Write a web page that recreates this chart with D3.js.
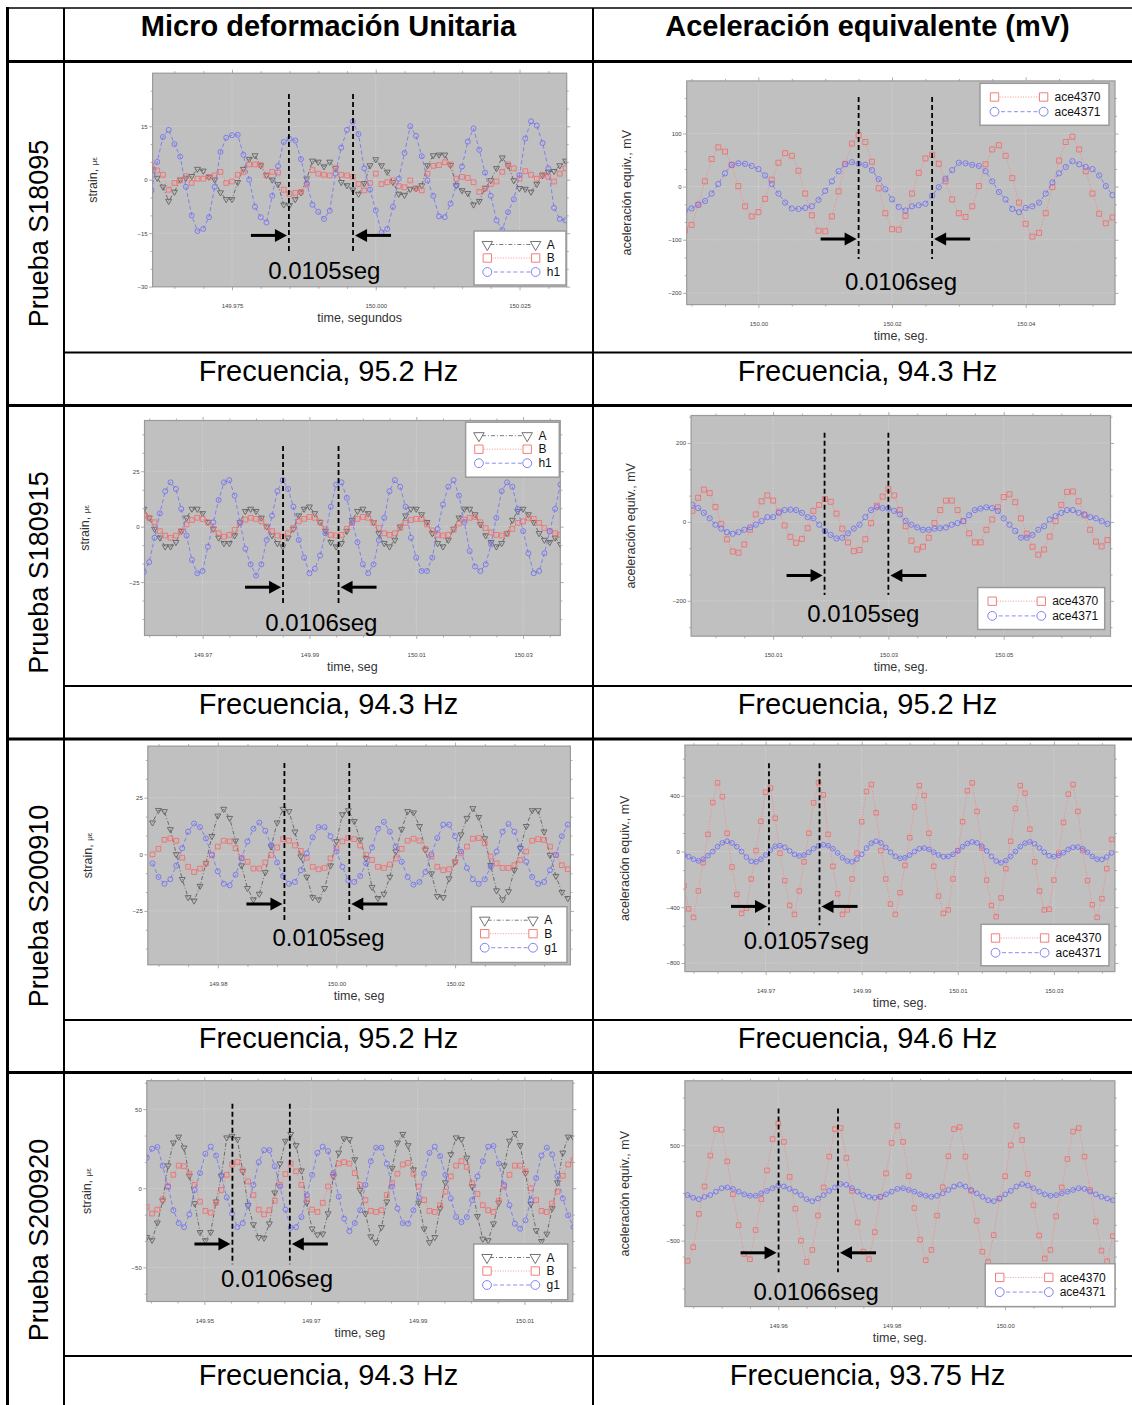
<!DOCTYPE html>
<html>
<head>
<meta charset="utf-8">
<script src="https://cdn.jsdelivr.net/npm/d3@7"></script>
<style>
  body { margin: 0; background: #fff; }
  svg { display: block; }
  text { font-family: "Liberation Sans", Arial, sans-serif; }
</style>
</head>
<body>
<svg id="fig" width="1132" height="1405"></svg>
<script>
// ---- Data (1 sample every ms) ----
const dt = 0.001;

// Prueba S18095 - strain
const s1T0 = 149.961;
const s1A = [3,.5,-2,-6,-3.4,0,.5,1,3,2.5, .8,0,-3.6,-5.5,-5.5,-.7,3,5.8,6.8,4, 1.3,0,-1.3,-7,-7.2,-5.5,-3.6,.3,5.3,5, 3.7,5,3.2,-.7,-1.6,-2.8,-4,-1,4,5.7, 4,2.2,-.7,-4,-4.3,-2.6,-2.4,-1.6,4,6.8, 7,7,4.1,-1.6,-3,-3.8,-7,-6,-2.4,-.2, 3.2,6.2,4,-.2,-2.4,-2.6,-3.4,-1.2,1.2,2.2, 2.4,4,5.3];
const s1B = [4,2.6,1.4,-2.8,-.9,-.2,1,-.9,.3,.3, .8,1.2,2.2,-.9,-.5,1.4,2.2,4.3,4.3,4.1, 1.2,2.2,2,-2.8,-4,-3.7,-3.4,-1.4,2.7,1.7, 1.4,1.2,3.2,1.4,1.2,.8,-1.2,-3,-.9,1.7, -1.2,-.7,-.2,-1.8,-2.1,-.2,-2.4,-3,1.7,3.9, 4.1,4.9,4.3,.3,.8,.5,-.7,-3.4,-2.4,-1.2, -.5,2.2,4.3,3.2,.3,2.4,1.4,.3,1.4,.8, -.5,1.7,3.2];
const s1H1 = [-3,5,12,14,10,6.5,-2,-10,-14.4,-13.8, -10.5,-2,7.8,11.8,12.5,12.6,7,0,-7.6,-10.5, -12,-4.5,3.8,10.6,11.5,11,5.8,-1,-7,-9, -11,-8.7,1.7,9,14,16.3,12.8,3.2,-2.8,-8.6, -14.8,-13.8,-7.6,.3,7.5,15,12.3,6.6,-.2,-4.5, -10.3,-10.5,-6.7,-1.6,3.7,10.7,14.4,8.4,2,-4.5, -11.4,-14.1,-9.1,-5.5,1.3,11.6,16.4,15.2,10.3,3.2, -7.9,-11,-11.4];
const s1XTicks = [149.975, 150.000, 150.025];
const s1YTicks = [-30, -15, 0, 15];
const s1Marks = [149.9849, 149.99605];

// Prueba S18095 - aceleracion
const a1T0 = 149.989;
const a1Ace4370 = [-82,-72,-34,10,52,74,66,41,1,-37,-56, -48,-23,13,45,63,58,30,-13,-54,-83, -84,-56,-9,43,81,97,84,47,-3,-50, -80,-81,-55,-13,26,53,60,43,10,-24, -50,-57,-37,1,42,70,78,58,16,-30, -70,-94,-87,-50,-1,49,84,94,70,29, -13,-51,-69,-58];
const a1Ace4371 = [-45,-41,-34,-27,-13,5,25,41,44,43,39, 33,21,5,-13,-30,-41,-42,-40,-37,-25, -8,10,29,42,46,43,41,31,14,-5, -24,-38,-45,-37,-35,-32,-17,-1,15,31, 45,44,41,39,29,10,-10,-24,-42,-48, -40,-37,-30,-13,8,25,37,48,42,37, 33,21,1,-16];
const a1XTicks = [150.00, 150.02, 150.04];
const a1YTicks = [-200, -100, 0, 100];
const a1Marks = [150.015, 150.026];

// Prueba S180915 - strain
const s2T0 = 149.959;
const s2A = [8,4,-1,-5,-9,-9,-7,-2,4,8, 8,6,2,-1,-5,-7.5,-7.5,-4,2,7, 8,7,4,0,-4,-7.5,-9,-5,-1,5, 8,9,6,2,-2,-7,-9,-7.5,-2,3, 7,8,6,2,-3,-7.5,-9,-6,0,5, 8,8,5.5,2,-3,-7.5,-9,-6,-1,4, 8,8,5.5,1,-4,-7,-9,-7.5,-3,3, 7,8,5.5,2,-3,-6,-7,-5,-8];
const s2B = [5,4,2,-2,-4,-5,-4,-2,1,3, 4,3.5,2,-1,-3,-4.5,-3.7,-1.4,1.7,3.2, 4,3.5,2.4,0,-2,-4,-4.5,-3,-.6,2.4, 3.5,4.4,4,2,-1.2,-3.7,-4,-3.7,-1,1.7, 3.5,4.4,4,1.7,-.6,-3,-3.7,-3,-.6,1.7, 3,3.5,3.5,1,-1.7,-3.7,-4,-3.7,-1.4,1.4, 3.2,4,4.4,2,-.6,-2.6,-3.7,-4,-3.2,-1, 1.7,2.4,4,3.5,1.7,-.6,-2,-3,-3.7];
const s2H1 = [-20.4,-16,-5,6,16,20,17,8,-4,-15, -21,-20,-9,2,12,20,21,14,2,-10, -17,-22,-17,-6,5,16,21,17,9,-6, -14,-21,-19,-13,-3,9,19,20,13,2, -7,-17,-21,-17,-6,4,16,21,18,9, -5,-14,-20,-20,-14,-1,10,18,21,14, 2,-11,-18,-20,-17,-8,4,16,20,18, 8,-2,-12,-21,-20,-12,-2,8,19];
const s2XTicks = [149.97, 149.99, 150.01, 150.03];
const s2YTicks = [-25, 0, 25];
const s2Marks = [149.98506, 149.99545];

// Prueba S180915 - aceleracion
const a2T0 = 149.996;
const a2Ace4370 = [28,61,82,73,38,-5,-44,-75,-78,-57, -20,19,52,67,54,26,-9,-38,-53,-43, -16,28,43,58,51,21,-17,-52,-74,-71, -44,-3,41,64,83,67,30,-11,-48,-70, -63,-40,-3,30,54,54,30,2,-29,-52, -52,-20,6,37,63,70,50,9,-30,-63, -83,-70,-37,2,43,76,77,52,17,-20, -50,-62,-46];
const a2Ace4371 = [43,35,23,9,-7,-17,-26,-30,-26,-20, -14,-7,2,12,12,23,30,31,30,23, 12,9,-7,-23,-33,-42,-40,-29,-17,-7, 12,30,37,35,34,28,19,3,-7,-14, -20,-20,-17,-16,-14,-7,-3,2,17,30, 34,37,35,28,9,-7,-23,-40,-40,-33, -20,-11,6,15,23,30,30,23,19,12, 9,2,-5];
const a2XTicks = [150.01, 150.03, 150.05];
const a2YTicks = [-200, 0, 200];
const a2Marks = [150.01893, 150.03];

// Prueba S200910 - strain
const s3T0 = 149.969;
const s3A = [14,19.5,19,11,0,-11,-19,-20.5,-14,-4, 8,17,20,16,6,-5,-15,-20,-17.5,-8, 3.4,14,20,19,10,-1,-10,-19,-20,-15, -5,5.7,17.6,19.4,14.6,6.4,-1.8,-14.5,-19.4,-17.5, -10,1.2,11,19,18.4,12.4,2,-8.5,-18.5,-19, -10.7,-3.3,8.7,16,20.3,16.4,7,-4.8,-16,-20, -16.4,-7,2.7,12.4,19.4,19.4,10,-.3,-9.6,-16.7, -19.4];
const s3B = [0,2.4,6.4,7,6,-1.5,-5.5,-7.8,-6.3,-4, -.3,3.4,6,5.7,2.7,-1.5,-3.3,-6.3,-6.3,-3.6, -.3,3,6.7,6,3.9,1.5,-1.5,-5.5,-6.6,-6, -1.8,2.7,5.7,7.2,6.7,3.9,-.3,-2.5,-5.5,-6, -4.5,-1.8,2.4,6,6.9,6,2.4,-1,-5.5,-7, -6.6,-3.3,.4,3.4,6.9,7.2,4.9,-1,-4,-6, -6,-4.8,-2.5,1.2,6,6.7,6.4,3.4,-.3,-4.8, -6.6];
const s3G1 = [-4,-10,-13,-11,-5,2.7,10,13.6,12,7, -.3,-7.5,-13,-13.7,-9,-1.8,5.7,11.3,14,10.4, 4.2,-3.6,-9.6,-13,-12.2,-7,.4,7.5,12,12, 8,1.2,-5.5,-11.5,-12.2,-9.6,-4,3,11.3,14.3, 10,3.4,-3.3,-10,-13.4,-12.2,-7.8,0,7.2,13.1, 13.1,8,1.2,-6,-11,-13,-11,-5.5,1.2,10, 13.4,10,3,-3.3,-10,-13,-12.2,-7,-.3,8, 13.1];
const s3XTicks = [149.98, 150.00, 150.02];
const s3YTicks = [-25, 0, 25];
const s3Marks = [149.99123, 150.00217];

// Prueba S200910 - aceleracion
const a3T0 = 149.953;
const a3Ace4370 = [-246, -412,-473,-283,-80,123,352,493,394,131,-111, -308,-444,-407,-197,7,217,426,456,239,-12, -209,-387,-451,-283,-74,131,350,493,407,123, -106,-303,-451,-419,-197,-12,214,431,481,278, 7,-197,-377,-451,-296,-99,99,320,473,402, 131,-106,-320,-444,-419,-197,7,214,436,493, 288,25,-205,-387,-468,-333,-123,74,308,473, 419,160,-74,-283,-419,-414,-205,-12,209,412, 481,288,7,-209,-382,-473,-338,-123,86];
const a3Ace4371 = [-25,-37,-55,-67,-55,-30,0,35,62,74, 62,35,0,-40,-70,-74,-55,-25,10,38, 42,30,5,-20,-32,-25,-5,20,40,49, 42,20,-10,-45,-68,-74,-55,-20,25,60, 74,62,30,-5,-35,-49,-45,-25,0,20, 25,15,-5,-25,-37,-35,-20,5,35,58, 69,62,40,5,-35,-68,-81,-65,-35,0, 35,60,69,55,25,-5,-30,-37,-28,-8, 15,30,32,20,-5,-35,-55,-57,-40,-10];
const a3XTicks = [149.97, 149.99, 150.01, 150.03];
const a3YTicks = [-800, -400, 0, 400];
const a3Marks = [149.9707, 149.98122];

// Prueba S200920 - strain
const s4T0 = 149.9392;
const s4A = [-31,-32.7,-21.8,-7.9,14.3,28.8,32.5,25.6,7.9,-9.6, -27.8,-33,-27.8,-8.5,7.9,32,33,31,10.7,-10.7, -22.9,-31,-31.4,-22.4,-2.8,15.6,29.9,34.2,27.1,11.1, -9.2,-25.6,-29.3,-28.8,-16,7.5,22.4,31.4,31,18.2, -1.1,-16,-30.6,-34.2,-24.6,-8.5,12.8,28.8,34.2,27.1, 11.8,-9.2,-25.6,-34.2,-31,-12.8,3.6,21.4,32,31, 19.2,1.1,-17.7,-32,-33,-22.4,-9.2,14.3,29.9,34.8, 27.1,9.6,-10,-26.7,-33.5,-28.8,-12.8,3.6,22.4,32.5, 32];
const s4B = [-11.8,-16,-13.5,-7,1.1,8.5,14.3,13.9,9.2,2.1, -8.5,-14.3,-15.4,-9.2,-1.1,8.5,15,16.5,11.3,4.3, -4.3,-13.5,-16.5,-13.9,-7.9,2.1,9,15.6,10.7,2.1, -7,-13.5,-15,-9.2,1.1,8.5,15.6,16.5,15.6,9.6, 2.1,-7.5,-14.3,-15,-13.9,-4.3,3.2,9.2,15,16, 9.2,1.1,-7.5,-14.3,-15,-10.7,-2.1,7.5,14.3,17.1, 13.5,3.2,-3.6,-10.7,-13.9,-15,-7.9,1.1,8.5,14.3, 14.3,10.7,0,-7.5,-14.3,-15,-9.6,-2.1,7.9,15, 17.7];
const s4G1 = [19.2,25,26,14.3,1.1,-13.9,-22,-24.6,-16.5,-1.1, 9.6,21.8,26.3,20.7,7.9,-5.8,-16,-24.6,-22,-10.7, 2.1,16.5,24.1,24.1,13.9,1.1,-13.5,-25,-24.6,-18.2, -4.3,8.5,22.4,26.3,23.5,9.6,-5.3,-19.2,-27.1,-22, -13.9,2.1,17.1,25.6,25.6,15.6,1.1,-12.8,-22,-22.4, -13.9,-5.8,9.2,22.4,26.3,20.3,8.5,-6.4,-18.2,-21.4, -18.2,-7.5,7.5,17.1,26.3,26.7,15.6,2.1,-10.7,-22.4, -25.6,-20.3,-7.5,6.4,20.7,25.6,21.4,7.5,-6.4,-17.1, -24.6];
const s4XTicks = [149.95, 149.97, 149.99, 150.01];
const s4YTicks = [-50, 0, 50];
const s4Marks = [149.95527, 149.96603];

// Prueba S200920 - aceleracion
const a4T0 = 149.944;
const a4Ace4370 = [-712,-568,-219,68,392,669,662,331,-14,-338, -640,-694,-388,-65,237,565,727,536,169,-165, -500,-723,-597,-237,58,381,669,680,367,22, -309,-615,-694,-410,-40,205,525,705,536,176, -158,-489,-705,-597,-237,61,385,669,691,381, 22,-291,-615,-723,-442,-58,176,500,705,554, 201,-129,-446,-687,-597,-245,58,356,644,680, 381,32,-299,-604,-716,-453];
const a4Ace4371 = [-22,-50,-65,-40,-22,14,50,58,43,14, -14,-29,-29,-4,22,50,79,68,43,14, -22,-65,-86,-58,-22,22,58,94,86,50, 14,-22,-40,-50,-40,-14,14,43,50,32, 14,-14,-29,-40,-29,-4,32,68,86,68, 32,-4,-40,-76,-86,-58,-14,22,68,94, 79,50,14,-14,-29,-22,-4,14,32,50, 43,14,-14,-40,-58,-76];
const a4XTicks = [149.96, 149.98, 150.00];
const a4YTicks = [-500, 500];
const a4Marks = [149.96005, 149.97053];

// Table text
const colHeaders = ['Micro deformación Unitaria', 'Aceleración equivalente (mV)'];
const rowNames = ['Prueba S18095', 'Prueba S180915', 'Prueba S200910', 'Prueba S200920'];
const freqLabels = [
  ['Frecuencia, 95.2 Hz', 'Frecuencia, 94.3 Hz'],
  ['Frecuencia, 94.3 Hz', 'Frecuencia, 95.2 Hz'],
  ['Frecuencia, 95.2 Hz', 'Frecuencia, 94.6 Hz'],
  ['Frecuencia, 94.3 Hz', 'Frecuencia, 93.75 Hz']
];
const periodLabels = ['0.0105seg', '0.0106seg', '0.0106seg', '0.0105seg', '0.0105seg', '0.01057seg', '0.0106seg', '0.01066seg'];

// ---- Styles ----
const styles = {
  A: { mark: '#626262', line: '#6a6a6a', dash: '1,2,4,2', sym: 'tri' },
  B: { mark: '#ee7070', line: '#ee8a8a', dash: '1,1.6', sym: 'sq' },
  C: { mark: '#7474ef', line: '#7f7fef', dash: '4,2.5', sym: 'circ' }
};

const svg = d3.select('#fig');

// ---- Table ----
const tbl = svg.append('g');
function hline(y, x0, x1, w) {
  tbl.append('line').attr('x1', x0).attr('x2', x1).attr('y1', y).attr('y2', y)
    .attr('stroke', '#000').attr('stroke-width', w);
}
function vline(x, y0, y1, w) {
  tbl.append('line').attr('x1', x).attr('x2', x).attr('y1', y0).attr('y2', y1)
    .attr('stroke', '#000').attr('stroke-width', w);
}
hline(8, 6, 1132, 1.5);
vline(7.5, 7, 1405, 3);
vline(64, 8, 1405, 2);
vline(593, 8, 1405, 2);
hline(61.5, 6, 1132, 3);
[405.5, 739, 1072.5].forEach(y => hline(y, 6, 1132, 3));
[352.5, 686, 1020, 1356].forEach(y => hline(y, 64, 1132, 2));

const colCenters = [328.5, 867.5];
colHeaders.forEach((t, i) => {
  tbl.append('text').attr('x', colCenters[i]).attr('y', 36)
    .attr('text-anchor', 'middle').attr('font-size', 29).attr('font-weight', 'bold').text(t);
});
const rowCenters = [233.5, 572.5, 906, 1240];
rowNames.forEach((t, i) => {
  tbl.append('text').attr('transform', `translate(39,${rowCenters[i]}) rotate(-90)`)
    .attr('dy', '0.35em').attr('text-anchor', 'middle').attr('font-size', 27).text(t);
});
const freqBase = [381, 714, 1048, 1385];
freqLabels.forEach((row, r) => row.forEach((t, c) => {
  tbl.append('text').attr('x', colCenters[c]).attr('y', freqBase[r])
    .attr('text-anchor', 'middle').attr('font-size', 29).text(t);
}));

// ---- Charts ----
const charts = [
  { t0: s1T0, series: [['A', s1A, 'A'], ['B', s1B, 'B'], ['h1', s1H1, 'C']], xTicks: s1XTicks, yTicks: s1YTicks, marks: s1Marks, note: periodLabels[0],
    xDomain: [149.9612, 150.0332], yDomain: [-30.05, 29.9], fmt: '.3f', xLabel: 'time, segundos', strain: true,
    panel: [152.6, 73.2, 566.7, 286.8], legend: [474, 231, 92, 54], dashY: [94, 253], arrowY: 235.4, noteXY: [324.3, 279.4], sm: 0.9 },
  { t0: a1T0, series: [['ace4370', a1Ace4370, 'B'], ['ace4371', a1Ace4371, 'C']], xTicks: a1XTicks, yTicks: a1YTicks, marks: a1Marks, note: periodLabels[1],
    xDomain: [149.98927, 150.05337], yDomain: [-222, 199], fmt: '.2f', xLabel: 'time, seg.', strain: false,
    panel: [686.7, 80.9, 1115, 304.6], legend: [980, 83.3, 129, 42], dashY: [97, 259], arrowY: 239, noteXY: [901, 289.5], sm: 1 },
  { t0: s2T0, series: [['A', s2A, 'A'], ['B', s2B, 'B'], ['h1', s2H1, 'C']], xTicks: s2XTicks, yTicks: s2YTicks, marks: s2Marks, note: periodLabels[2],
    xDomain: [149.95912, 150.03697], yDomain: [-49.1, 47.9], fmt: '.2f', xLabel: 'time, seg', strain: true,
    panel: [144.5, 420.5, 560.3, 635.5], legend: [465.6, 422.2, 93.7, 55], dashY: [446, 606], arrowY: 587.2, noteXY: [321.4, 631], sm: 0.9 },
  { t0: a2T0, series: [['ace4370', a2Ace4370, 'B'], ['ace4371', a2Ace4371, 'C']], xTicks: a2XTicks, yTicks: a2YTicks, marks: a2Marks, note: periodLabels[3],
    xDomain: [149.99578, 150.06853], yDomain: [-289.7, 269.7], fmt: '.2f', xLabel: 'time, seg.', strain: false,
    panel: [691.1, 415.5, 1110.5, 636.2], legend: [977.7, 587.5, 127, 42], dashY: [432.7, 595], arrowY: 575.5, noteXY: [863.4, 621.5], sm: 1 },
  { t0: s3T0, series: [['A', s3A, 'A'], ['B', s3B, 'B'], ['g1', s3G1, 'C']], xTicks: s3XTicks, yTicks: s3YTicks, marks: s3Marks, note: periodLabels[4],
    xDomain: [149.9682, 150.03944], yDomain: [-48.8, 47.8], fmt: '.2f', xLabel: 'time, seg', strain: true,
    panel: [147.8, 746.1, 570.4, 964.8], legend: [471.4, 906.7, 95.6, 55.8], dashY: [763, 922.6], arrowY: 904, noteXY: [328.5, 946], sm: 0.9 },
  { t0: a3T0, series: [['ace4370', a3Ace4370, 'B'], ['ace4371', a3Ace4371, 'C']], xTicks: a3XTicks, yTicks: a3YTicks, marks: a3Marks, note: periodLabels[5],
    xDomain: [149.9532, 150.0427], yDomain: [-862, 764], fmt: '.2f', xLabel: 'time, seg.', strain: false,
    panel: [684.9, 745.1, 1114.9, 971.6], legend: [981, 924.3, 128, 41.5], dashY: [763.3, 925.3], arrowY: 906.4, noteXY: [806.4, 949.3], sm: 0.8 },
  { t0: s4T0, series: [['A', s4A, 'A'], ['B', s4B, 'B'], ['g1', s4G1, 'C']], xTicks: s4XTicks, yTicks: s4YTicks, marks: s4Marks, note: periodLabels[6],
    xDomain: [149.93922, 150.01907], yDomain: [-71.6, 68], fmt: '.2f', xLabel: 'time, seg', strain: true,
    panel: [146.8, 1080.7, 572.8, 1301.5], legend: [473.7, 1244, 94, 55.8], dashY: [1103.7, 1264.3], arrowY: 1244, noteXY: [277, 1287.3], sm: 0.9 },
  { t0: a4T0, series: [['ace4370', a4Ace4370, 'B'], ['ace4371', a4Ace4371, 'C']], xTicks: a4XTicks, yTicks: a4YTicks, marks: a4Marks, note: periodLabels[7],
    xDomain: [149.94353, 150.01937], yDomain: [-1191, 1176], fmt: '.2f', xLabel: 'time, seg.', strain: false,
    panel: [684.9, 1080.8, 1114.9, 1306.6], legend: [985.2, 1263.7, 129.8, 42.9], dashY: [1108.6, 1272.3], arrowY: 1252.8, noteXY: [816.2, 1299.8], sm: 0.85 }
];

function symbolFor(kind, scale) {
  if (kind === 'tri') return d3.symbol().type(d3.symbolTriangle).size(17 * scale)();
  if (kind === 'sq') return d3.symbol().type(d3.symbolSquare).size(25 * scale)();
  return d3.symbol().type(d3.symbolCircle).size(22 * scale)();
}

function minorTicks(domain, step, majors) {
  const out = [];
  for (let k = Math.ceil(domain[0] / step); k <= Math.floor(domain[1] / step); k++) {
    const v = +(k * step).toFixed(6);
    if (!majors.some(m => Math.abs(m - v) < step * 1e-3)) out.push(v);
  }
  return out;
}

function styleAxis(sel) {
  sel.select('.domain').remove();
  sel.attr('font-size', 6).attr('font-family', '"Liberation Sans", Arial, sans-serif');
  sel.selectAll('line').attr('stroke', '#999').attr('stroke-width', 0.8);
  sel.selectAll('text').attr('fill', '#444');
}

function arrow(g, tail, tip, y) {
  const dir = tip > tail ? 1 : -1;
  const head = 12;
  g.append('line').attr('x1', tail).attr('x2', tip - dir * head + dir)
    .attr('y1', y).attr('y2', y).attr('stroke', '#000').attr('stroke-width', 3);
  g.append('path').attr('d', `M${tip},${y}L${tip - dir * head},${y - 6.5}L${tip - dir * head},${y + 6.5}Z`)
    .attr('fill', '#000');
}

charts.forEach((c, ci) => {
  const p = c.panel;
  const x = d3.scaleLinear().domain(c.xDomain).range([p[0], p[2]]);
  const y = d3.scaleLinear().domain(c.yDomain).range([p[3], p[1]]);
  const g = svg.append('g');

  const clipId = 'clip' + ci;
  svg.append('clipPath').attr('id', clipId).append('rect')
    .attr('x', p[0]).attr('y', p[1]).attr('width', p[2] - p[0]).attr('height', p[3] - p[1]);

  g.append('rect').attr('x', p[0]).attr('y', p[1]).attr('width', p[2] - p[0]).attr('height', p[3] - p[1])
    .attr('fill', '#c0c0c0');

  // grid
  g.selectAll('.gx').data(c.xTicks).enter().append('line')
    .attr('x1', d => x(d)).attr('x2', d => x(d)).attr('y1', p[1]).attr('y2', p[3])
    .attr('stroke', '#dadada').attr('stroke-width', 0.8).attr('stroke-dasharray', '1,1.5');
  g.selectAll('.gy').data(c.yTicks).enter().append('line')
    .attr('x1', p[0]).attr('x2', p[2]).attr('y1', d => y(d)).attr('y2', d => y(d))
    .attr('stroke', '#dadada').attr('stroke-width', 0.8).attr('stroke-dasharray', '1,1.5');

  // axes: major + minor, all four sides
  const yStep = c.yTicks[1] - c.yTicks[0];
  const xMinor = minorTicks(c.xDomain, 0.005, c.xTicks);
  const yMinor = minorTicks(c.yDomain, yStep / 3, c.yTicks);
  const fmt = d3.format(c.fmt);

  g.append('g').attr('transform', `translate(0,${p[3]})`)
    .call(d3.axisBottom(x).tickValues(c.xTicks).tickFormat(fmt).tickSize(3.5).tickPadding(13.5)).call(styleAxis);
  g.append('g').attr('transform', `translate(${p[0]},0)`)
    .call(d3.axisLeft(y).tickValues(c.yTicks).tickFormat(d3.format('d')).tickSize(3.5).tickPadding(1.5)).call(styleAxis);
  g.append('g').attr('transform', `translate(0,${p[1]})`)
    .call(d3.axisTop(x).tickValues(c.xTicks).tickFormat('').tickSize(3.5)).call(styleAxis);
  g.append('g').attr('transform', `translate(${p[2]},0)`)
    .call(d3.axisRight(y).tickValues(c.yTicks).tickFormat('').tickSize(3.5)).call(styleAxis);
  [[d3.axisBottom, p[3], true], [d3.axisTop, p[1], true], [d3.axisLeft, p[0], false], [d3.axisRight, p[2], false]]
    .forEach(([ax, pos, isX]) => {
      g.append('g').attr('transform', isX ? `translate(0,${pos})` : `translate(${pos},0)`)
        .call(ax(isX ? x : y).tickValues(isX ? xMinor : yMinor).tickFormat('').tickSize(2)).call(styleAxis);
    });

  g.append('rect').attr('x', p[0]).attr('y', p[1]).attr('width', p[2] - p[0]).attr('height', p[3] - p[1])
    .attr('fill', 'none').attr('stroke', '#9a9a9a').attr('stroke-width', 1.2);

  // axis titles
  g.append('text').attr('x', (p[0] + p[2]) / 2).attr('y', p[3] + 35)
    .attr('text-anchor', 'middle').attr('font-size', 12.5).attr('fill', '#333').text(c.xLabel);
  const yt = g.append('text').attr('transform', `translate(${p[0] - 60},${(p[1] + p[3]) / 2}) rotate(-90)`)
    .attr('dy', '0.35em').attr('text-anchor', 'middle').attr('font-size', 12.5).attr('fill', '#333');
  if (c.strain) {
    yt.append('tspan').text('strain, ');
    yt.append('tspan').attr('font-size', 8).text('με');
  } else {
    yt.text('aceleración equiv., mV');
  }

  // series
  const plot = g.append('g').attr('clip-path', `url(#${clipId})`);
  c.series.forEach(([name, vals, st]) => {
    const s = styles[st];
    const line = d3.line().x((d, i) => x(c.t0 + i * dt)).y(d => y(d));
    plot.append('path').datum(vals).attr('d', line).attr('fill', 'none')
      .attr('stroke', s.line).attr('stroke-width', 1).attr('stroke-dasharray', s.dash);
    plot.selectAll(null).data(vals).enter().append('path')
      .attr('d', symbolFor(s.sym, c.sm))
      .attr('transform', (d, i) => `translate(${x(c.t0 + i * dt)},${y(d)})` + (s.sym === 'tri' ? ' rotate(180)' : ''))
      .attr('fill', 'none').attr('stroke', s.mark).attr('stroke-width', 0.9);
  });

  // legend
  const [lx, ly, lw, lh] = c.legend;
  const lg = g.append('g');
  lg.append('rect').attr('x', lx).attr('y', ly).attr('width', lw).attr('height', lh)
    .attr('fill', '#fff').attr('stroke', '#9a9a9a').attr('stroke-width', 1.5);
  const three = c.series.length === 3;
  const rowsY = three ? [13.5, 27, 41] : [13.7, 28.4];
  const mx = three ? [13.3, 61.6, 72.8] : [14.5, 63.6, 74.5];
  c.series.forEach(([name, vals, st], k) => {
    const s = styles[st];
    const yy = ly + rowsY[k];
    lg.append('line').attr('x1', lx + mx[0]).attr('x2', lx + mx[1]).attr('y1', yy).attr('y2', yy)
      .attr('stroke', s.line).attr('stroke-width', 0.9).attr('stroke-dasharray', s.dash);
    [mx[0], mx[1]].forEach(ox => {
      lg.append('path').attr('d', symbolFor(s.sym, 2.8))
        .attr('transform', `translate(${lx + ox},${yy})` + (s.sym === 'tri' ? ' rotate(180)' : ''))
        .attr('fill', '#fff').attr('stroke', s.mark).attr('stroke-width', 0.9);
    });
    lg.append('text').attr('x', lx + mx[2]).attr('y', yy).attr('dy', '0.35em')
      .attr('font-size', 12).attr('fill', '#111').text(name);
  });

  // period annotation
  const an = g.append('g');
  c.marks.forEach(m => {
    an.append('line').attr('x1', x(m)).attr('x2', x(m)).attr('y1', c.dashY[0]).attr('y2', c.dashY[1])
      .attr('stroke', '#000').attr('stroke-width', 1.8).attr('stroke-dasharray', '5,3');
  });
  const m0 = x(c.marks[0]), m1 = x(c.marks[1]);
  arrow(an, m0 - 38, m0 - 2, c.arrowY);
  arrow(an, m1 + 38, m1 + 2, c.arrowY);
  an.append('text').attr('x', c.noteXY[0]).attr('y', c.noteXY[1])
    .attr('text-anchor', 'middle').attr('font-size', 24).attr('fill', '#000').text(c.note);
});
</script>
</body>
</html>
